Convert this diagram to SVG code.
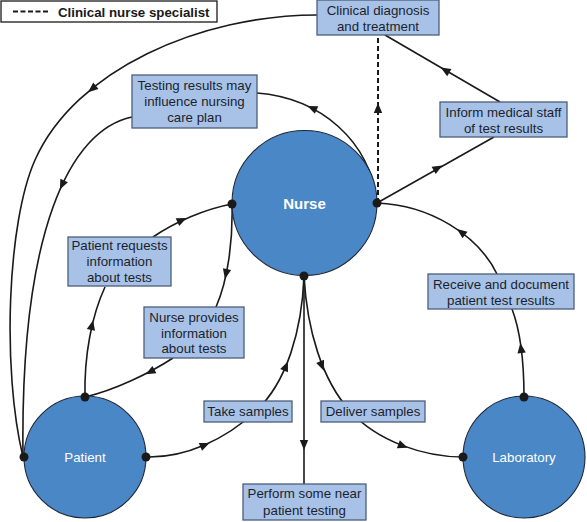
<svg xmlns="http://www.w3.org/2000/svg" xmlns:xlink="http://www.w3.org/1999/xlink" width="587" height="522" viewBox="0 0 587 522">
<style>
.c{fill:none;stroke:#1a1a1a;stroke-width:1.6}
.d{fill:none;stroke:#1a1a1a;stroke-width:2;stroke-dasharray:5 3}
.box{fill:#a7c2e6;stroke:#4e5d7c;stroke-width:1.3}
.circ{fill:#4a87c7;stroke:#1f2738;stroke-width:1.1}
.t{font-family:"Liberation Sans",Arial,sans-serif;font-size:13.3px;fill:#1b1f2e;text-anchor:middle}
.w{font-family:"Liberation Sans",Arial,sans-serif;font-size:13.3px;fill:#ffffff;text-anchor:middle}
.dot{fill:#1a1a1a}
.ah{fill:#1a1a1a}
</style>
<defs>
<path id="ah" d="M5,0 L-5,-4.2 L-5,4.2 Z"/>
</defs>
<rect width="587" height="522" fill="#ffffff"/>

<g id="legend">
<rect x="1" y="1" width="216" height="21" fill="#ffffff" stroke="#1a1a1a" stroke-width="1.3"/>
<line x1="13" y1="11.5" x2="48" y2="11.5" stroke="#1a1a1a" stroke-width="1.8" stroke-dasharray="5 2.5"/>
<text x="58" y="16.5" font-family="'Liberation Sans',Arial,sans-serif" font-size="13.3" font-weight="bold" fill="#1a1a1a">Clinical nurse specialist</text>
</g>

<g id="connectors">
<path class="c" d="M317,15 C200,15 75,70 35,160 C7,223 2,370 23,457"/>
<path class="c" d="M132,117 C70,130 20,230 23,457"/>
<path class="c" d="M377,203 C370,140 320,98 257,93"/>
<path class="d" d="M378,203 L378,35"/>
<path class="c" d="M377,203 L494,137"/>
<path class="c" d="M500,102 L385,35"/>
<path class="c" d="M377,203 C430,205 478,235 497,274"/>
<path class="c" d="M524,397 C524,360 520,330 512,309"/>
<path class="c" d="M304,276 L304,484"/>
<path class="c" d="M146,457 C185,458 225,440 256,411 C287,382 302,330 304,276"/>
<path class="c" d="M304,276 C307,330 322,380 350,411 C378,442 425,457 463,457"/>
<path class="c" d="M85,397 C84,355 92,315 105,287"/>
<path class="c" d="M153,237 C175,222 205,209 232,204"/>
<path class="c" d="M232,204 C233,240 228,280 216,307"/>
<path class="c" d="M173,358 C150,373 115,390 85,397"/>
<g class="ah">
<use xlink:href="#ah" transform="translate(92,89) rotate(141)"/>
<use xlink:href="#ah" transform="translate(62,185) rotate(115)"/>
<use xlink:href="#ah" transform="translate(312,108) rotate(204)"/>
<use xlink:href="#ah" transform="translate(378,108) rotate(-90)"/>
<use xlink:href="#ah" transform="translate(438,168) rotate(-29.4)"/>
<use xlink:href="#ah" transform="translate(445,70) rotate(210.2)"/>
<use xlink:href="#ah" transform="translate(461,232) rotate(216.8)"/>
<use xlink:href="#ah" transform="translate(521,348) rotate(-97.7)"/>
<use xlink:href="#ah" transform="translate(304,445) rotate(90)"/>
<use xlink:href="#ah" transform="translate(205,445) rotate(-23)"/>
<use xlink:href="#ah" transform="translate(286,366) rotate(-67)"/>
<use xlink:href="#ah" transform="translate(322,366) rotate(68)"/>
<use xlink:href="#ah" transform="translate(403,446) rotate(21)"/>
<use xlink:href="#ah" transform="translate(92,325) rotate(-77)"/>
<use xlink:href="#ah" transform="translate(182,220) rotate(-25)"/>
<use xlink:href="#ah" transform="translate(226,274) rotate(102)"/>
<use xlink:href="#ah" transform="translate(150,372) rotate(152)"/>
</g>
</g>

<g id="nurse">
<circle class="circ" cx="304.5" cy="203" r="72.5"/>
<text x="304.5" y="208.5" font-family="'Liberation Sans',Arial,sans-serif" font-size="15" font-weight="bold" fill="#ffffff" text-anchor="middle">Nurse</text>
<circle class="dot" cx="232" cy="204" r="4.5"/>
<circle class="dot" cx="377" cy="203" r="4.5"/>
<circle class="dot" cx="304" cy="276" r="4.5"/>
</g>

<g id="patient">
<circle class="circ" cx="85" cy="457" r="61"/>
<text class="w" x="85" y="462">Patient</text>
<circle class="dot" cx="24" cy="457" r="4.5"/>
<circle class="dot" cx="146" cy="457" r="4.5"/>
<circle class="dot" cx="85" cy="397" r="4.5"/>
</g>

<g id="laboratory">
<circle class="circ" cx="524" cy="457" r="61"/>
<text class="w" x="524" y="462">Laboratory</text>
<circle class="dot" cx="463" cy="457" r="4.5"/>
<circle class="dot" cx="524" cy="397" r="4.5"/>
</g>

<g id="clinical-diagnosis">
<rect class="box" x="317" y="0" width="122" height="35"/>
<text class="t" x="378" y="15">Clinical diagnosis</text>
<text class="t" x="378" y="31">and treatment</text>
</g>

<g id="inform-medical">
<rect class="box" x="440" y="102" width="127" height="35"/>
<text class="t" x="503.5" y="117">Inform medical staff</text>
<text class="t" x="503.5" y="133">of test results</text>
</g>

<g id="testing-results">
<rect class="box" x="132" y="75" width="125" height="53"/>
<text class="t" x="194.5" y="90">Testing results may</text>
<text class="t" x="194.5" y="106">influence nursing</text>
<text class="t" x="194.5" y="122">care plan</text>
</g>

<g id="patient-requests">
<rect class="box" x="68" y="237" width="103" height="49"/>
<text class="t" x="119.5" y="250">Patient requests</text>
<text class="t" x="119.5" y="266">information</text>
<text class="t" x="119.5" y="282">about tests</text>
</g>

<g id="nurse-provides">
<rect class="box" x="144" y="307" width="100" height="51"/>
<text class="t" x="194" y="322">Nurse provides</text>
<text class="t" x="194" y="338">information</text>
<text class="t" x="194" y="353">about tests</text>
</g>

<g id="receive-document">
<rect class="box" x="428" y="274" width="146" height="35"/>
<text class="t" x="501" y="289">Receive and document</text>
<text class="t" x="501" y="305">patient test results</text>
</g>

<g id="take-samples">
<rect class="box" x="204" y="401" width="88" height="21"/>
<text class="t" x="248" y="416">Take samples</text>
</g>

<g id="deliver-samples">
<rect class="box" x="321" y="401" width="104" height="21"/>
<text class="t" x="373" y="416">Deliver samples</text>
</g>

<g id="perform-testing">
<rect class="box" x="243" y="484" width="123" height="36"/>
<text class="t" x="304.5" y="498">Perform some near</text>
<text class="t" x="304.5" y="515">patient testing</text>
</g>
</svg>
